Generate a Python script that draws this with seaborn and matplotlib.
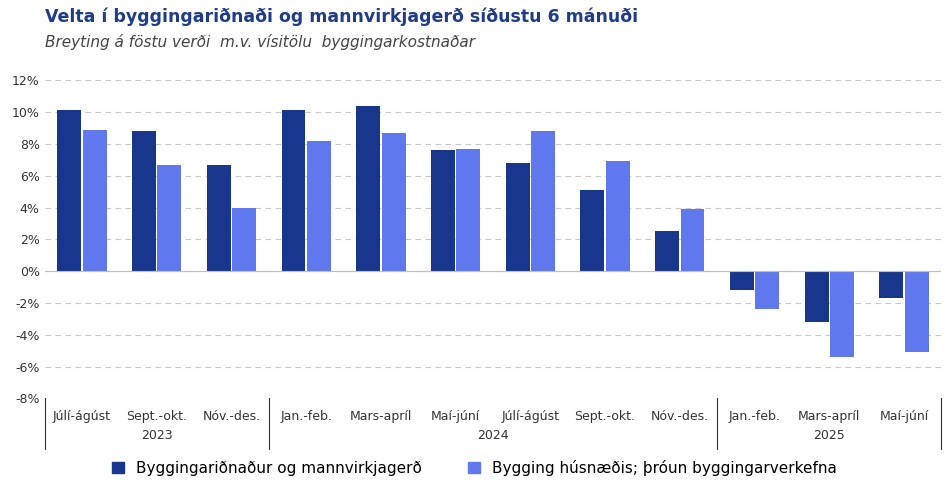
import matplotlib
matplotlib.use("Agg")
import matplotlib.pyplot as plt
import seaborn as sns
import pandas as pd

periods = ["Júlí-ágúst","Sept.-okt.","Nóv.-des.","Jan.-feb.","Mars-apríl","Maí-júní",
           "Júlí-ágúst","Sept.-okt.","Nóv.-des.","Jan.-feb.","Mars-apríl","Maí-júní"]
years = ["2023","2024","2025"]
year_counts = [3, 6, 3]
s1_name = "Byggingariðnaður og mannvirkjagerð"
s2_name = "Bygging húsnæðis; þróun byggingarverkefna"
s1 = [10.1, 8.8, 6.7, 10.1, 10.4, 7.6, 6.8, 5.1, 2.5, -1.2, -3.2, -1.7]
s2 = [8.9, 6.7, 4.0, 8.2, 8.7, 7.7, 8.8, 6.9, 3.9, -2.4, -5.4, -5.1]

idx = list(range(len(periods)))
df = pd.DataFrame({"i": idx * 2, "v": s1 + s2,
                   "s": [s1_name] * len(s1) + [s2_name] * len(s2)})

fig = plt.figure(figsize=(9.49, 4.95), dpi=100)
ax = fig.add_axes([0.047, 0.195, 0.945, 0.643])
sns.barplot(data=df, x="i", y="v", hue="s", palette=["#17368C", "#6078EE"],
            ax=ax, width=0.68, gap=0.06, saturation=1, legend=False)
ax.set_ylim(-8, 12)
ax.set_xlim(-0.5, len(periods) - 0.5)
ax.set_yticks(range(-8, 13, 2))
ax.set_yticklabels([f"{t}%" for t in range(-8, 13, 2)], fontsize=9, color="#333333")
ax.yaxis.grid(True, linestyle=(0, (5, 4)), color="#c8c8c8", linewidth=0.8)
ax.set_axisbelow(True)
ax.axhline(0, color="#c0c0c0", linewidth=0.8)
for sp in ax.spines.values():
    sp.set_visible(False)
ax.tick_params(length=0)
ax.set_xticks(idx)
ax.set_xticklabels(periods, fontsize=9, color="#333333")
ax.tick_params(axis="x", pad=8)
ax.set_xlabel(""); ax.set_ylabel("")

tr = ax.get_xaxis_transform()
bounds = [-0.5]
for c in year_counts:
    bounds.append(bounds[-1] + c)
for b in bounds:
    ax.plot([b, b], [0, -0.16], transform=tr, color="#333333", lw=0.8, clip_on=False)
for k, y in enumerate(years):
    ax.text((bounds[k] + bounds[k + 1]) / 2, -0.115, y, transform=tr,
            ha="center", va="center", fontsize=9, color="#333333")

fig.text(0.047, 0.955, "Velta í byggingariðnaði og mannvirkjagerð síðustu 6 mánuði",
         fontsize=12.5, fontweight="bold", color="#1F3C88")
fig.text(0.047, 0.905, "Breyting á föstu verði  m.v. vísitölu  byggingarkostnaðar",
         fontsize=11, style="italic", color="#444444")

from matplotlib.patches import Patch
fig.legend(handles=[Patch(color="#17368C", label=s1_name), Patch(color="#6078EE", label=s2_name)],
           loc="center", bbox_to_anchor=(0.5, 0.055), ncol=2, frameon=False,
           fontsize=11, handlelength=0.8, handleheight=0.8, columnspacing=3)
fig.savefig("out.png", dpi=100)
